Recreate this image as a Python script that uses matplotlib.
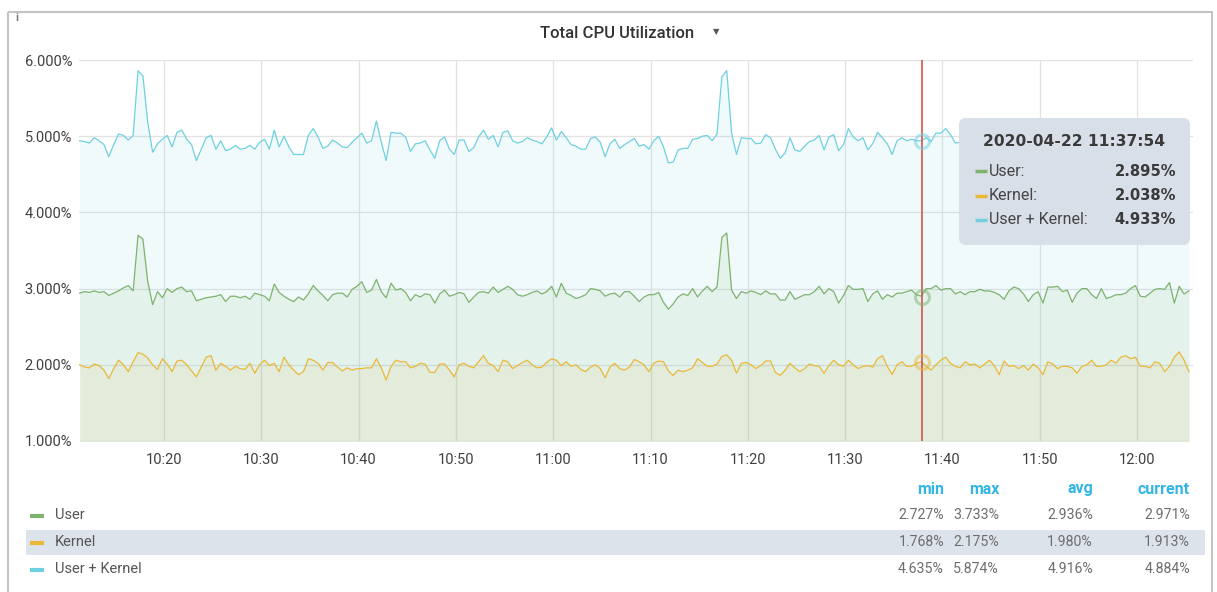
import numpy as np
import pandas as pd
import matplotlib
matplotlib.use("Agg")
import matplotlib.pyplot as plt
import matplotlib.dates as mdates
from matplotlib.patches import FancyBboxPatch, Rectangle
from matplotlib.ticker import FuncFormatter

plt.rcParams['font.family'] = ['Roboto', 'DejaVu Sans']

# values, one sample every 30 s from 10:11:20
user = [
    2.94, 2.96, 2.95, 2.97, 2.95, 2.96, 2.91, 2.94, 2.97, 3.01,
    3.04, 2.97, 3.70, 3.65, 3.09, 2.79, 2.96, 2.88, 3.00, 2.95,
    3.00, 3.02, 2.96, 2.97, 2.84, 2.86, 2.88, 2.89, 2.90, 2.92,
    2.83, 2.90, 2.90, 2.88, 2.90, 2.86, 2.94, 2.92, 2.90, 2.84,
    3.06, 2.95, 2.90, 2.86, 2.83, 2.89, 2.85, 2.93, 3.04, 2.97,
    2.91, 2.84, 2.92, 2.94, 2.94, 2.89, 2.99, 3.03, 3.09, 2.95,
    2.98, 3.12, 2.96, 2.88, 3.07, 2.98, 3.00, 2.95, 2.84, 2.92,
    2.89, 2.93, 2.92, 2.81, 2.93, 2.98, 2.90, 2.92, 2.95, 2.93,
    2.82, 2.89, 2.95, 2.96, 2.94, 3.02, 2.95, 2.99, 3.03, 2.99,
    2.92, 2.90, 2.92, 2.95, 2.97, 2.93, 2.96, 3.03, 2.89, 3.07,
    2.94, 2.91, 2.87, 2.89, 2.92, 3.00, 2.99, 2.97, 2.90, 2.93,
    2.94, 2.89, 2.96, 2.96, 2.90, 2.83, 2.89, 2.92, 2.92, 2.95,
    2.82, 2.73, 2.80, 2.89, 2.93, 2.91, 3.00, 2.89, 2.97, 3.03,
    2.96, 3.02, 3.67, 3.73, 2.98, 2.87, 2.96, 2.94, 2.97, 2.95,
    2.92, 2.97, 2.93, 2.93, 2.85, 2.85, 2.96, 2.86, 2.89, 2.92,
    2.92, 2.96, 3.03, 2.93, 3.00, 2.96, 2.81, 2.91, 3.04, 2.99,
    2.99, 3.00, 2.83, 2.93, 2.97, 2.86, 2.92, 2.89, 2.94, 2.94,
    2.96, 2.98, 2.92, 2.90, 3.00, 3.00, 3.04, 2.98, 3.00, 3.00,
    2.93, 2.96, 2.92, 2.96, 2.96, 2.99, 2.97, 2.97, 2.95, 2.92,
    2.86, 2.97, 3.02, 3.00, 2.93, 2.83, 2.92, 2.96, 2.81, 3.02,
    3.02, 3.03, 2.96, 2.98, 2.82, 2.94, 3.00, 3.00, 2.92, 2.87,
    3.00, 2.87, 2.89, 2.92, 2.92, 2.94, 3.00, 3.04, 2.90, 2.89,
    2.94, 2.99, 3.00, 2.99, 3.08, 2.81, 3.03, 2.93, 2.97,
]
kernel = [
    2.00, 1.97, 1.96, 2.01, 1.99, 1.93, 1.82, 1.95, 2.06, 2.00,
    1.91, 2.04, 2.16, 2.14, 2.09, 2.00, 1.94, 2.08, 2.01, 1.91,
    2.05, 2.06, 2.00, 1.92, 1.84, 1.97, 2.10, 2.12, 1.93, 2.02,
    1.98, 1.93, 1.98, 1.95, 1.94, 2.02, 1.89, 2.00, 2.06, 1.99,
    2.02, 1.91, 2.10, 2.00, 1.93, 1.87, 1.91, 2.08, 2.06, 2.02,
    1.93, 2.03, 2.03, 1.97, 1.92, 1.96, 1.93, 1.95, 1.95, 1.96,
    1.96, 2.08, 1.96, 1.80, 1.98, 2.06, 2.04, 2.04, 1.96, 1.98,
    2.02, 2.01, 1.90, 1.90, 2.01, 2.01, 1.93, 1.84, 2.00, 2.02,
    1.98, 1.96, 2.04, 2.12, 2.02, 1.99, 1.91, 2.06, 2.04, 1.95,
    1.99, 2.03, 2.06, 2.00, 1.96, 1.97, 2.03, 2.08, 2.06, 1.99,
    2.04, 1.98, 2.00, 1.94, 1.91, 1.97, 2.00, 1.95, 1.83, 1.97,
    2.02, 1.95, 1.93, 1.97, 2.07, 2.04, 2.00, 1.91, 2.02, 2.05,
    2.04, 1.92, 1.86, 1.93, 1.91, 1.93, 1.96, 2.08, 2.03, 1.98,
    1.98, 2.01, 2.11, 2.13, 2.06, 1.89, 2.02, 2.03, 2.00, 1.95,
    1.99, 2.05, 2.05, 1.90, 1.86, 1.93, 2.02, 1.96, 1.91, 1.95,
    2.01, 1.99, 1.98, 1.89, 1.99, 2.06, 2.00, 1.98, 2.06, 2.00,
    1.95, 1.98, 1.99, 1.97, 2.08, 2.12, 1.98, 1.87, 2.00, 2.04,
    1.98, 1.98, 2.02, 2.04, 1.98, 1.93, 2.00, 2.06, 2.10, 2.02,
    1.98, 1.96, 2.04, 2.00, 2.01, 1.96, 2.01, 2.06, 1.99, 1.87,
    2.05, 1.98, 1.99, 1.95, 1.99, 1.93, 2.01, 1.96, 1.87, 2.04,
    2.01, 1.95, 1.98, 1.98, 1.96, 1.89, 1.98, 2.00, 2.06, 1.98,
    1.98, 2.00, 2.06, 2.02, 2.10, 2.12, 2.08, 2.10, 1.98, 1.98,
    1.96, 2.04, 2.02, 1.91, 1.98, 2.10, 2.17, 2.06, 1.91,
]
# third series is literally the sum of the two
total = list(np.round(np.array(user) + np.array(kernel), 3))

series_names = ["User", "Kernel", "User + Kernel"]
colors = ["#7EB26D", "#EAB839", "#6ED0E0"]

hover_label = "2020-04-22 11:37:54"
hover_vals = [2.895, 2.038, 4.933]

stat_headers = ["min", "max", "avg", "current"]
stat_user = ["2.727%", "3.733%", "2.936%", "2.971%"]
stat_kernel = ["1.768%", "2.175%", "1.980%", "1.913%"]
stat_total = ["4.635%", "5.874%", "4.916%", "4.884%"]

times = pd.date_range("2020-04-22 10:11:20", periods=len(user), freq="30s").to_pydatetime()
hover_time = pd.Timestamp(hover_label).to_pydatetime()

W, H = 1217, 592
fig = plt.figure(figsize=(W / 100, H / 100), dpi=100)
fig.patch.set_facecolor('white')

ax = fig.add_axes([79 / W, 1 - 441 / H, 1114 / W, 381 / H])
ax.set_facecolor('white')

data = [user, kernel, total]
# fills: biggest first so they stack visually like grafana
for vals, c in zip(data[::-1], colors[::-1]):
    ax.fill_between(times, vals, 0, color=c, alpha=0.1, lw=0, zorder=1)
for vals, c in zip(data, colors):
    ax.plot(times, vals, color=c, lw=0.9, zorder=3)

ax.axvline(hover_time, color='#d6483b', lw=1.1, zorder=4)
for v, c in zip(hover_vals, colors):
    ax.plot([hover_time], [v], 'o', ms=10, mfc='none', mec=c, mew=2.2, alpha=0.5, zorder=4)

ax.set_ylim(1, 6)
ax.set_xlim(pd.Timestamp("2020-04-22 10:11:16").to_pydatetime(),
            pd.Timestamp("2020-04-22 12:05:45").to_pydatetime())
ax.yaxis.set_major_formatter(FuncFormatter(lambda v, _: f"{v:.3f}%"))
ax.set_yticks([1, 2, 3, 4, 5, 6])
ax.xaxis.set_major_locator(mdates.MinuteLocator(byminute=[0, 10, 20, 30, 40, 50]))
ax.xaxis.set_major_formatter(mdates.DateFormatter('%H:%M'))
ax.grid(True, color='#e2e2e2', lw=0.9, zorder=0)
ax.set_axisbelow(True)
for s in ax.spines.values():
    s.set_visible(False)
ax.tick_params(length=0, labelsize=10.5, labelcolor='#404040')
ax.tick_params(axis='y', pad=5)
ax.tick_params(axis='x', pad=9)

# overlay in pixel coordinates for panel chrome
ov = fig.add_axes([0, 0, 1, 1], zorder=5)
ov.set_xlim(0, W)
ov.set_ylim(H, 0)
ov.axis('off')

ov.add_patch(Rectangle((7.5, 11.5), 1204, 600, fill=False, ec='#c4c4c4', lw=1.5))
ov.text(17, 18, "i", fontsize=8, fontweight='bold', color='#777777', ha='center', va='center')
ov.text(617, 33, "Total CPU Utilization", fontsize=12, color='#333333',
        ha='center', va='center', fontweight='medium')
ov.text(716, 32, "\u25BC", fontsize=6, color='#555555', ha='center', va='center',
        family=['DejaVu Sans'])

# tooltip
ov.add_patch(FancyBboxPatch((959, 118), 231, 127, boxstyle="round,pad=0,rounding_size=7",
                            fc='#d9dfe8', ec='none', zorder=2))
ov.text(1074, 141, hover_label, fontsize=11.2, fontweight='bold', color='#3a3a3a',
        ha='center', va='center', zorder=3, family=['DejaVu Sans'])
for k, (name, v, c) in enumerate(zip(series_names, hover_vals, colors)):
    y = 171 + k * 24.5
    ov.plot([975, 987], [y, y], color=c, lw=2.5, solid_capstyle='butt', zorder=3)
    ov.text(989, y, name + ":", fontsize=11.5, color='#454545', ha='left', va='center', zorder=3)
    ov.text(1176, y, f"{v:.3f}%", fontsize=10.6, fontweight='bold', color='#3a3a3a',
            ha='right', va='center', zorder=3, family=['DejaVu Sans'])

# legend table
col_right = [944, 999, 1093, 1190]
for x, h in zip(col_right, stat_headers):
    ov.text(x, 489, h, fontsize=11.5, fontweight='bold', color='#33b5e5', ha='right', va='center')
ov.add_patch(Rectangle((26, 530), 1179, 25, fc='#dde3ea', ec='none', zorder=0))
rows = [stat_user, stat_kernel, stat_total]
for k, (name, c, st) in enumerate(zip(series_names, colors, rows)):
    y = 515 + k * 27
    ov.plot([30, 44], [y + 1, y + 1], color=c, lw=3, solid_capstyle='butt')
    ov.text(55, y, name, fontsize=10.5, color='#555555', ha='left', va='center')
    for x, s in zip(col_right, st):
        ov.text(x, y, s, fontsize=10.2, color='#6e6e6e', ha='right', va='center')

fig.savefig("out.png", dpi=100)
